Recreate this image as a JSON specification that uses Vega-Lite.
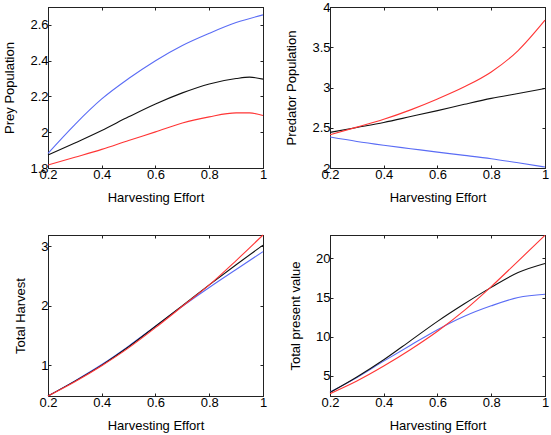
{
  "$schema": "https://vega.github.io/schema/vega-lite/v6.json",
  "background": "white",
  "padding": {"left": 3, "top": 0, "right": 0, "bottom": 0},
  "config": {
    "font": "Liberation Sans",
    "view": {"stroke": "black", "strokeWidth": 1},
    "axis": {
      "grid": false,
      "domainColor": "#222",
      "tickColor": "#222",
      "tickSize": -3,
      "labelColor": "black",
      "titleColor": "black",
      "labelFontSize": 13,
      "titleFontSize": 13,
      "titleFontWeight": "normal",
      "labelOverlap": false,
      "labelFlush": false,
      "labelBound": false
    },
    "axisX": {"labelPadding": 3, "titlePadding": 10},
    "axisY": {"labelPadding": 3, "titlePadding": 13},
    "line": {"strokeWidth": 1.1, "interpolate": "monotone"}
  },
  "datasets": {
    "prey": [
      {"e": 0.2, "s": "a", "v": 1.882}, {"e": 0.3, "s": "a", "v": 2.043}, {"e": 0.4, "s": "a", "v": 2.186}, {"e": 0.5, "s": "a", "v": 2.300}, {"e": 0.6, "s": "a", "v": 2.400}, {"e": 0.7, "s": "a", "v": 2.485}, {"e": 0.8, "s": "a", "v": 2.553}, {"e": 0.9, "s": "a", "v": 2.613}, {"e": 1.0, "s": "a", "v": 2.656},
      {"e": 0.2, "s": "b", "v": 1.872}, {"e": 0.3, "s": "b", "v": 1.940}, {"e": 0.4, "s": "b", "v": 2.010}, {"e": 0.5, "s": "b", "v": 2.086}, {"e": 0.6, "s": "b", "v": 2.158}, {"e": 0.7, "s": "b", "v": 2.220}, {"e": 0.8, "s": "b", "v": 2.270}, {"e": 0.9, "s": "b", "v": 2.300}, {"e": 0.95, "s": "b", "v": 2.308}, {"e": 1.0, "s": "b", "v": 2.297},
      {"e": 0.2, "s": "c", "v": 1.817}, {"e": 0.3, "s": "c", "v": 1.860}, {"e": 0.4, "s": "c", "v": 1.904}, {"e": 0.5, "s": "c", "v": 1.954}, {"e": 0.6, "s": "c", "v": 2.002}, {"e": 0.7, "s": "c", "v": 2.052}, {"e": 0.8, "s": "c", "v": 2.086}, {"e": 0.9, "s": "c", "v": 2.108}, {"e": 0.95, "s": "c", "v": 2.108}, {"e": 1.0, "s": "c", "v": 2.093}
    ],
    "pred": [
      {"e": 0.2, "s": "a", "v": 2.385}, {"e": 0.3, "s": "a", "v": 2.330}, {"e": 0.4, "s": "a", "v": 2.283}, {"e": 0.5, "s": "a", "v": 2.240}, {"e": 0.6, "s": "a", "v": 2.197}, {"e": 0.7, "s": "a", "v": 2.157}, {"e": 0.8, "s": "a", "v": 2.115}, {"e": 0.9, "s": "a", "v": 2.065}, {"e": 1.0, "s": "a", "v": 2.012},
      {"e": 0.2, "s": "b", "v": 2.443}, {"e": 0.3, "s": "b", "v": 2.504}, {"e": 0.4, "s": "b", "v": 2.566}, {"e": 0.5, "s": "b", "v": 2.639}, {"e": 0.6, "s": "b", "v": 2.713}, {"e": 0.7, "s": "b", "v": 2.791}, {"e": 0.8, "s": "b", "v": 2.865}, {"e": 0.9, "s": "b", "v": 2.926}, {"e": 1.0, "s": "b", "v": 2.988},
      {"e": 0.2, "s": "c", "v": 2.414}, {"e": 0.3, "s": "c", "v": 2.508}, {"e": 0.4, "s": "c", "v": 2.605}, {"e": 0.5, "s": "c", "v": 2.722}, {"e": 0.6, "s": "c", "v": 2.857}, {"e": 0.7, "s": "c", "v": 3.008}, {"e": 0.8, "s": "c", "v": 3.193}, {"e": 0.9, "s": "c", "v": 3.459}, {"e": 1.0, "s": "c", "v": 3.836}
    ],
    "harvest": [
      {"e": 0.2, "s": "a", "v": 0.48}, {"e": 0.3, "s": "a", "v": 0.735}, {"e": 0.4, "s": "a", "v": 1.01}, {"e": 0.5, "s": "a", "v": 1.32}, {"e": 0.6, "s": "a", "v": 1.654}, {"e": 0.7, "s": "a", "v": 1.99}, {"e": 0.8, "s": "a", "v": 2.307}, {"e": 0.9, "s": "a", "v": 2.61}, {"e": 1.0, "s": "a", "v": 2.91},
      {"e": 0.2, "s": "b", "v": 0.48}, {"e": 0.3, "s": "b", "v": 0.73}, {"e": 0.4, "s": "b", "v": 1.0}, {"e": 0.5, "s": "b", "v": 1.31}, {"e": 0.6, "s": "b", "v": 1.654}, {"e": 0.7, "s": "b", "v": 2.0}, {"e": 0.8, "s": "b", "v": 2.35}, {"e": 0.9, "s": "b", "v": 2.69}, {"e": 1.0, "s": "b", "v": 3.02},
      {"e": 0.2, "s": "c", "v": 0.48}, {"e": 0.3, "s": "c", "v": 0.72}, {"e": 0.4, "s": "c", "v": 0.99}, {"e": 0.5, "s": "c", "v": 1.29}, {"e": 0.6, "s": "c", "v": 1.63}, {"e": 0.7, "s": "c", "v": 1.99}, {"e": 0.8, "s": "c", "v": 2.35}, {"e": 0.9, "s": "c", "v": 2.76}, {"e": 1.0, "s": "c", "v": 3.19}
    ],
    "tpv": [
      {"e": 0.2, "s": "a", "v": 2.9}, {"e": 0.3, "s": "a", "v": 4.75}, {"e": 0.4, "s": "a", "v": 6.86}, {"e": 0.5, "s": "a", "v": 8.9}, {"e": 0.6, "s": "a", "v": 10.89}, {"e": 0.7, "s": "a", "v": 12.6}, {"e": 0.8, "s": "a", "v": 13.94}, {"e": 0.9, "s": "a", "v": 15.0}, {"e": 1.0, "s": "a", "v": 15.42},
      {"e": 0.2, "s": "b", "v": 2.85}, {"e": 0.3, "s": "b", "v": 4.83}, {"e": 0.4, "s": "b", "v": 7.03}, {"e": 0.5, "s": "b", "v": 9.49}, {"e": 0.6, "s": "b", "v": 11.95}, {"e": 0.7, "s": "b", "v": 14.2}, {"e": 0.8, "s": "b", "v": 16.3}, {"e": 0.9, "s": "b", "v": 18.2}, {"e": 1.0, "s": "b", "v": 19.36},
      {"e": 0.2, "s": "c", "v": 2.7}, {"e": 0.3, "s": "c", "v": 4.32}, {"e": 0.4, "s": "c", "v": 6.23}, {"e": 0.5, "s": "c", "v": 8.35}, {"e": 0.6, "s": "c", "v": 10.68}, {"e": 0.7, "s": "c", "v": 13.35}, {"e": 0.8, "s": "c", "v": 16.4}, {"e": 0.9, "s": "c", "v": 19.66}, {"e": 1.0, "s": "c", "v": 22.96}
    ]
  },
  "columns": 2,
  "spacing": {"row": 67, "column": 67},
  "bounds": "flush",
  "concat": [
    {
      "width": 215, "height": 161,
      "data": {"name": "prey"},
      "resolve": {"axis": {"x": "independent", "y": "independent"}},
      "layer": [
        {
          "mark": "line",
          "encoding": {
            "x": {"field": "e", "type": "quantitative", "scale": {"domain": [0.2, 1], "nice": false}, "axis": {"values": [0.2, 0.4, 0.6, 0.8, 1], "format": ".1~f", "title": "Harvesting Effort"}},
            "y": {"field": "v", "type": "quantitative", "scale": {"domain": [1.8, 2.7], "nice": false, "zero": false}, "axis": {"values": [1.8, 2, 2.2, 2.4, 2.6], "format": ".1~f", "title": "Prey Population"}},
            "color": {"field": "s", "type": "nominal", "scale": {"domain": ["a", "b", "c"], "range": ["#5a6cf5", "#111111", "#ff3535"]}, "legend": null}
          }
        },
        {
          "mark": {"type": "line", "opacity": 0},
          "encoding": {
            "x": {"field": "e", "type": "quantitative", "axis": {"orient": "top", "values": [0.2, 0.4, 0.6, 0.8, 1], "labels": false, "title": null}},
            "y": {"field": "v", "type": "quantitative", "axis": {"orient": "right", "values": [1.8, 2, 2.2, 2.4, 2.6], "labels": false, "title": null}}
          }
        }
      ]
    },
    {
      "width": 215, "height": 161,
      "data": {"name": "pred"},
      "resolve": {"axis": {"x": "independent", "y": "independent"}},
      "layer": [
        {
          "mark": "line",
          "encoding": {
            "x": {"field": "e", "type": "quantitative", "scale": {"domain": [0.2, 1], "nice": false}, "axis": {"values": [0.2, 0.4, 0.6, 0.8, 1], "format": ".1~f", "title": "Harvesting Effort"}},
            "y": {"field": "v", "type": "quantitative", "scale": {"domain": [2, 4], "nice": false, "zero": false}, "axis": {"values": [2, 2.5, 3, 3.5, 4], "format": ".1~f", "title": "Predator Population"}},
            "color": {"field": "s", "type": "nominal", "scale": {"domain": ["a", "b", "c"], "range": ["#5a6cf5", "#111111", "#ff3535"]}, "legend": null}
          }
        },
        {
          "mark": {"type": "line", "opacity": 0},
          "encoding": {
            "x": {"field": "e", "type": "quantitative", "axis": {"orient": "top", "values": [0.2, 0.4, 0.6, 0.8, 1], "labels": false, "title": null}},
            "y": {"field": "v", "type": "quantitative", "axis": {"orient": "right", "values": [2, 2.5, 3, 3.5, 4], "labels": false, "title": null}}
          }
        }
      ]
    },
    {
      "width": 215, "height": 161,
      "data": {"name": "harvest"},
      "resolve": {"axis": {"x": "independent", "y": "independent"}},
      "layer": [
        {
          "mark": "line",
          "encoding": {
            "x": {"field": "e", "type": "quantitative", "scale": {"domain": [0.2, 1], "nice": false}, "axis": {"values": [0.2, 0.4, 0.6, 0.8, 1], "format": ".1~f", "title": "Harvesting Effort"}},
            "y": {"field": "v", "type": "quantitative", "scale": {"domain": [0.48, 3.19], "nice": false, "zero": false}, "axis": {"values": [1, 2, 3], "format": "d", "title": "Total Harvest"}},
            "color": {"field": "s", "type": "nominal", "scale": {"domain": ["a", "b", "c"], "range": ["#5a6cf5", "#111111", "#ff3535"]}, "legend": null}
          }
        },
        {
          "mark": {"type": "line", "opacity": 0},
          "encoding": {
            "x": {"field": "e", "type": "quantitative", "axis": {"orient": "top", "values": [0.2, 0.4, 0.6, 0.8, 1], "labels": false, "title": null}},
            "y": {"field": "v", "type": "quantitative", "axis": {"orient": "right", "values": [1, 2, 3], "labels": false, "title": null}}
          }
        }
      ]
    },
    {
      "width": 215, "height": 161,
      "data": {"name": "tpv"},
      "resolve": {"axis": {"x": "independent", "y": "independent"}},
      "layer": [
        {
          "mark": "line",
          "encoding": {
            "x": {"field": "e", "type": "quantitative", "scale": {"domain": [0.2, 1], "nice": false}, "axis": {"values": [0.2, 0.4, 0.6, 0.8, 1], "format": ".1~f", "title": "Harvesting Effort"}},
            "y": {"field": "v", "type": "quantitative", "scale": {"domain": [2.4, 23], "nice": false, "zero": false}, "axis": {"values": [5, 10, 15, 20], "format": "d", "title": "Total present value"}},
            "color": {"field": "s", "type": "nominal", "scale": {"domain": ["a", "b", "c"], "range": ["#5a6cf5", "#111111", "#ff3535"]}, "legend": null}
          }
        },
        {
          "mark": {"type": "line", "opacity": 0},
          "encoding": {
            "x": {"field": "e", "type": "quantitative", "axis": {"orient": "top", "values": [0.2, 0.4, 0.6, 0.8, 1], "labels": false, "title": null}},
            "y": {"field": "v", "type": "quantitative", "axis": {"orient": "right", "values": [5, 10, 15, 20], "labels": false, "title": null}}
          }
        }
      ]
    }
  ]
}
